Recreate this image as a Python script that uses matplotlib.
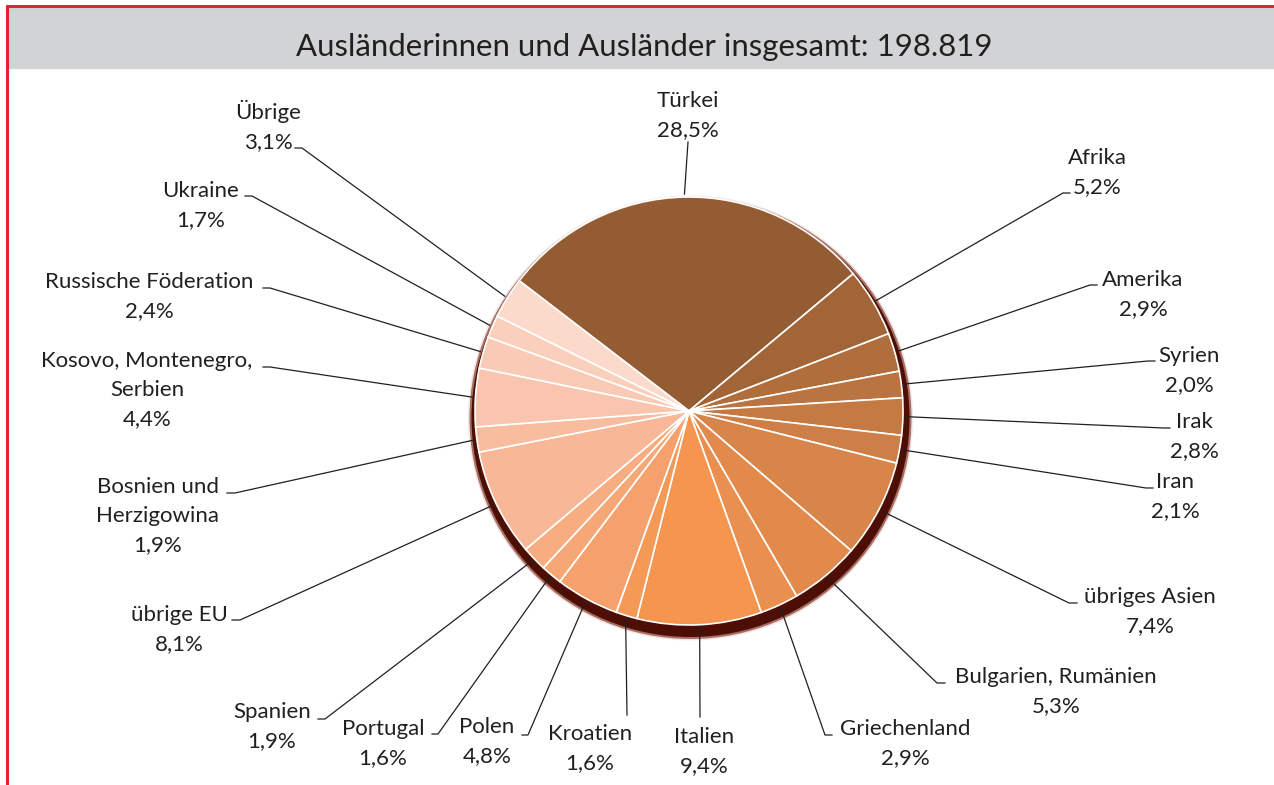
import matplotlib.pyplot as plt
import numpy as np
from matplotlib.patches import Circle, Rectangle

plt.rcParams['font.family'] = ['Lato', 'DejaVu Sans']

# Daten
titel = 'Ausländerinnen und Ausländer insgesamt: 198.819'

laender = ['Türkei', 'Afrika', 'Amerika', 'Syrien', 'Irak', 'Iran', 'übriges Asien',
           'Bulgarien, Rumänien', 'Griechenland', 'Italien', 'Kroatien', 'Polen',
           'Portugal', 'Spanien', 'übrige EU', 'Bosnien und\nHerzigowina',
           'Kosovo, Montenegro,\nSerbien', 'Russische Föderation', 'Ukraine', 'Übrige']
anteile = [28.5, 5.2, 2.9, 2.0, 2.8, 2.1, 7.4, 5.3, 2.9, 9.4, 1.6, 4.8, 1.6, 1.9,
           8.1, 1.9, 4.4, 2.4, 1.7, 3.1]

# Farben (braun -> orange -> rosa)
farben = ['#935C32', '#A26537', '#B06E3D', '#BA7441', '#C57A44', '#CE7F47',
          '#D8854A', '#E18A4C', '#E98F4F', '#F5954F', '#F49956', '#F5A16D',
          '#F6A776', '#F7AD80', '#F8B797', '#F8BC9F', '#F9C5AE', '#F9CAB5',
          '#FAD0BD', '#FBDACC']

# Layout der Beschriftungen (Pixel): Textmitte x, Grundlinie 1. Zeile,
# Startpunkt der Linie, Länge des kurzen waagerechten Strichs
text_pos = [(688, 107), (1097, 164), (1143, 286), (1189, 362), (1194, 428),
            (1175, 488), (1150, 603), (1056, 683), (905, 735), (704, 743),
            (590, 740), (487, 733), (383, 735), (272, 718), (179, 621),
            (158, 493), (147, 367), (149, 288), (201, 197), (268, 119)]
linien_start = [(688, 142), (1070, 193), (1097, 285), (1155, 361), (1170, 428),
                (1153, 488), (1077, 603), (945, 683), (832, 735), (700, 717),
                (627, 715), (522, 735), (432, 734), (318, 719), (232, 620),
                (227, 493), (263, 367), (263, 288), (245, 196), (295, 148)]
strich = [0, -7, -7, -7, -6, -7, -8, -8, -7, 0, 0, 6, 6, 7, 8, 8, 7, 7, 7, 7]

textfarbe = '#231F20'
W, H = 1274, 785

fig = plt.figure(figsize=(W / 100, H / 100), dpi=100)
ax = fig.add_axes([0, 0, 1, 1])

# Rahmen und Titelbalken
ax.add_patch(Rectangle((8, 7), W, 61, color='#D2D3D5', zorder=0))
ax.plot([6, W], [6, 6], color='#E3222A', lw=2.2, zorder=1, solid_capstyle='butt')
ax.plot([6.5, 6.5], [5, H], color='#E3222A', lw=2.2, zorder=1, solid_capstyle='butt')
ax.text(644, 56, titel, ha='center', va='baseline', fontsize=22.4, color=textfarbe)

# Schatten unter der Torte
for r, c, a in [(222.5, '#D8BDB6', 0.35), (221, '#8A3A2C', 0.7), (219, '#4D0F05', 1.0)]:
    ax.add_patch(Circle((690.5, 418), r, color=c, alpha=a, zorder=1, lw=0))

# Torte: y-Achse ist invertiert, daher startangle negativ und counterclock=True
wedges, _ = ax.pie(anteile, colors=farben, startangle=-142.5, counterclock=True,
                   center=(689, 411), radius=214,
                   wedgeprops=dict(edgecolor='white', linewidth=1.2, zorder=2))

for i, w in enumerate(wedges):
    mitte = np.deg2rad((w.theta1 + w.theta2) / 2)
    ex = w.center[0] + (w.r + 3) * np.cos(mitte)
    ey = w.center[1] + (w.r + 3) * np.sin(mitte)
    sx, sy = linien_start[i]
    ax.plot([sx, sx + strich[i], ex], [sy, sy, ey], color=textfarbe, lw=0.9, zorder=3)

    zeilen = laender[i].split('\n') + [f'{anteile[i]:.1f}'.replace('.', ',') + '%']
    cx, by = text_pos[i]
    for k, z in enumerate(zeilen):
        ax.text(cx, by + 29 * k, z, ha='center', va='baseline', fontsize=16,
                color=textfarbe, zorder=4)

ax.set_xlim(0, W)
ax.set_ylim(H, 0)
ax.set_aspect('equal')
ax.axis('off')

fig.savefig('out.png', dpi=100, facecolor='white')
